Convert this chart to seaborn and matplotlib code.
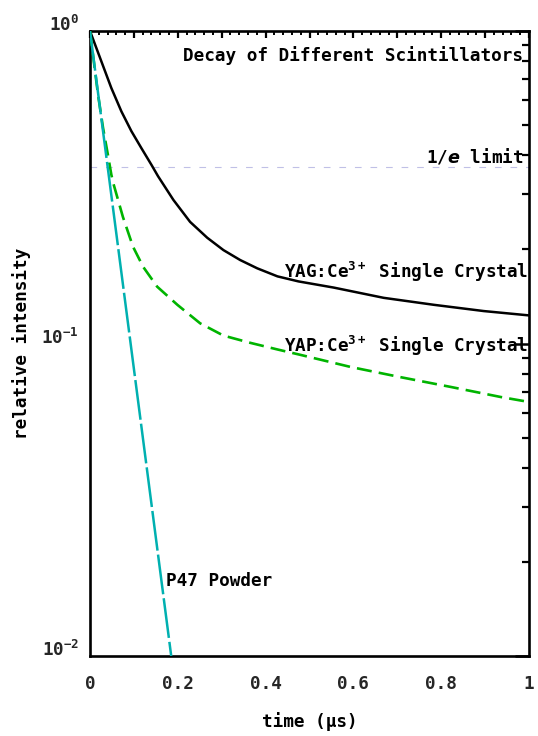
import numpy as np
import pandas as pd
import matplotlib
matplotlib.use("Agg")
import matplotlib.pyplot as plt
import matplotlib.ticker as mticker
import seaborn as sns

# ---- data ----
yag_t = [0.0, 0.0258, 0.0486, 0.0715, 0.0943, 0.117, 0.140, 0.155, 0.190, 0.228,
         0.267, 0.304, 0.342, 0.381, 0.427, 0.475, 0.555, 0.669, 0.783, 0.897, 1.0]
yag_i = [1.0, 0.80, 0.657, 0.553, 0.478, 0.422, 0.373, 0.343, 0.288, 0.245,
         0.218, 0.199, 0.185, 0.174, 0.164, 0.158, 0.151, 0.140, 0.133, 0.127, 0.123]

yap_t = [0.0, 0.0183, 0.0297, 0.041, 0.0486, 0.053, 0.075, 0.098, 0.121, 0.153,
         0.199, 0.251, 0.304, 0.365, 0.427, 0.479, 0.594, 0.708, 0.822, 0.936, 1.0]
yap_i = [1.0, 0.625, 0.49, 0.40, 0.347, 0.326, 0.254, 0.204, 0.176, 0.152,
         0.133, 0.116, 0.106, 0.1005, 0.0957, 0.092, 0.0841, 0.078, 0.0726, 0.0674, 0.065]

p47_t = [0.0, 0.0925, 0.185]
p47_i = [1.0, 0.1, 0.01]

one_over_e = 0.3679

x_ticks = [0.0, 0.2, 0.4, 0.6, 0.8, 1.0]
x_tick_labels = ["0", "0.2", "0.4", "0.6", "0.8", "1"]

title_text = "Decay of Different Scintillators"
e_text = r"1/$\mathit{e}$ limit"
yag_text = r"YAG:Ce$^{\mathdefault{3+}}$ Single Crystal"
yap_text = r"YAP:Ce$^{\mathdefault{3+}}$ Single Crystal"
p47_text = "P47 Powder"
x_label = "time (μs)"
y_label = "relative intensity"

# ---- style ----
sns.set_style("white")
plt.rcParams["font.family"] = ["DejaVu Sans Mono", "DejaVu Sans"]
plt.rcParams["font.weight"] = "bold"
plt.rcParams["mathtext.fontset"] = "dejavusans"
FS = 12.7

W, H = 538, 736
fig = plt.figure(figsize=(W / 100, H / 100), dpi=100)
L, R, T, B = 90, 529, 31, 656
ax = fig.add_axes([L / W, 1 - B / H, (R - L) / W, (B - T) / H])

df_yag = pd.DataFrame({"t": yag_t, "i": yag_i})
df_yap = pd.DataFrame({"t": yap_t, "i": yap_i})
df_p47 = pd.DataFrame({"t": p47_t, "i": p47_i})

ax.axhline(one_over_e, color="#c0c0e6", lw=0.8, linestyle=(0, (6, 8)), zorder=1)
sns.lineplot(data=df_yag, x="t", y="i", ax=ax, color="black", lw=1.8, zorder=3)
sns.lineplot(data=df_yap, x="t", y="i", ax=ax, color="#00b400", lw=1.9,
             linestyle=(0, (5.7, 2.7)), zorder=3)
sns.lineplot(data=df_p47, x="t", y="i", ax=ax, color="#00b0b0", lw=1.8,
             linestyle=(0, (16, 1.6)), zorder=4)

ax.set_yscale("log")
ax.set_xlim(0, 1)
ax.set_ylim(0.01, 1)
ax.set_xlabel("")
ax.set_ylabel("")

for s in ax.spines.values():
    s.set_linewidth(1.9)
    s.set_color("black")

ax.xaxis.set_major_locator(mticker.MultipleLocator(0.1))
ax.xaxis.set_minor_locator(mticker.MultipleLocator(0.02))

def xfmt(v, pos):
    for tv, tl in zip(x_ticks, x_tick_labels):
        if abs(v - tv) < 1e-6:
            return tl
    return ""

ax.xaxis.set_major_formatter(mticker.FuncFormatter(xfmt))
ax.yaxis.set_major_locator(mticker.LogLocator(base=10))
ax.yaxis.set_minor_locator(mticker.LogLocator(base=10, subs=np.arange(2, 10)))
ax.yaxis.set_minor_formatter(mticker.NullFormatter())

ax.tick_params(axis="both", which="both", direction="in", top=True, right=True,
               color="black", labelsize=FS)
ax.tick_params(axis="x", which="major", length=5, width=1.6, pad=14)
ax.tick_params(axis="x", which="minor", length=3, width=1.4)
ax.tick_params(axis="y", which="major", length=10, width=1.8, pad=8)
ax.tick_params(axis="y", which="minor", length=5, width=1.6)
for lbl in ax.yaxis.get_majorticklabels():
    lbl.set_verticalalignment("baseline")

tk = dict(fontsize=FS, fontweight="bold", color="black")
ax.text((523 - L) / (R - L), (B - 61) / (B - T), title_text, ha="right",
        va="baseline", transform=ax.transAxes, **tk)
ax.text((523 - L) / (R - L), (B - 162) / (B - T), e_text, ha="right",
        va="baseline", transform=ax.transAxes, **tk)
ax.text((528 - L) / (R - L), (B - 278) / (B - T), yag_text, ha="right",
        va="baseline", transform=ax.transAxes, **tk)
ax.text((528 - L) / (R - L), (B - 352) / (B - T), yap_text, ha="right",
        va="baseline", transform=ax.transAxes, **tk)
ax.text((166 - L) / (R - L), (B - 586) / (B - T), p47_text, ha="left",
        va="baseline", transform=ax.transAxes, **tk)

fig.text(309.5 / W, 1 - 722 / H, x_label, ha="center", va="center", **tk)
fig.text(22 / W, 1 - 343.5 / H, y_label, ha="center", va="center",
         rotation=90, **tk)

fig.savefig("out.png", dpi=100)
